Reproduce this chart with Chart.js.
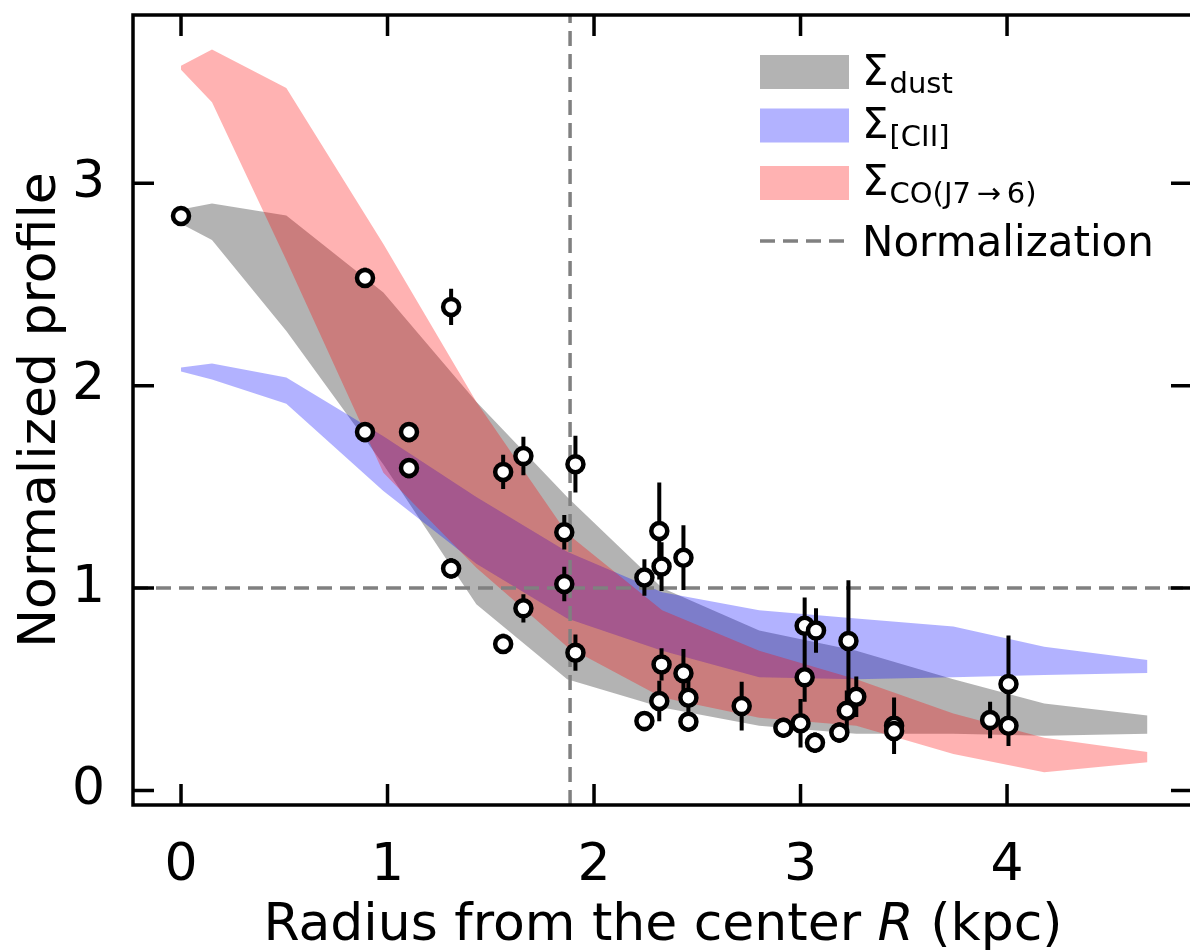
<!DOCTYPE html>
<html>
<head>
<meta charset="utf-8">
<script src="https://cdn.jsdelivr.net/npm/chart.js@4.4.1/dist/chart.umd.min.js"></script>
<style>
  html, body { margin: 0; padding: 0; background: #fff; overflow: hidden; }
  #wrap { width: 1190px; height: 950px; }
</style>
</head>
<body>
<div id="wrap"><canvas id="profile" width="1190" height="950"></canvas></div>
<script>
// radial bins of the model bands (kpc)
const bandX = [0, 0.15, 0.51, 0.98, 1.43, 1.87, 2.33, 2.80, 3.27, 3.74, 4.18, 4.68];

// dust band
const dustUpper = [2.87, 2.90, 2.84, 2.46, 1.92, 1.45, 1.00, 0.79, 0.69, 0.55, 0.43, 0.37];
const dustLower = [2.80, 2.72, 2.27, 1.61, 0.92, 0.55, 0.41, 0.32, 0.28, 0.28, 0.27, 0.28];

// [CII] band
const ciiUpper = [2.09, 2.11, 2.04, 1.75, 1.45, 1.18, 0.98, 0.89, 0.85, 0.81, 0.71, 0.645];
const ciiLower = [2.07, 2.03, 1.91, 1.48, 1.12, 0.85, 0.69, 0.56, 0.55, 0.56, 0.57, 0.58];

// CO(7-6) band
const coUpper = [3.58, 3.66, 3.47, 2.70, 1.92, 1.27, 0.89, 0.69, 0.55, 0.38, 0.26, 0.19];
const coLower = [3.56, 3.40, 2.62, 1.57, 1.10, 0.71, 0.46, 0.36, 0.32, 0.18, 0.09, 0.14];

// measured points with errors
const ptR   = [0, 0.891, 0.891, 1.104, 1.104, 1.308, 1.308, 1.56, 1.56, 1.658, 1.658, 1.856, 1.856, 1.91, 1.91,
               2.244, 2.244, 2.316, 2.327, 2.327, 2.316, 2.433, 2.433, 2.457, 2.457, 2.715, 2.917,
               3.02, 3.02, 3.0, 3.075, 3.07, 3.188, 3.224, 3.232, 3.27, 3.453, 3.453, 3.918, 4.007, 4.007];
const ptVal = [2.838, 2.532, 1.771, 1.771, 1.593, 2.389, 1.097, 1.574, 0.724, 1.652, 0.900, 1.276, 1.020, 1.612, 0.681,
               1.052, 0.343, 1.282, 1.106, 0.623, 0.442, 1.150, 0.579, 0.458, 0.340, 0.417, 0.310,
               0.814, 0.559, 0.332, 0.790, 0.236, 0.286, 0.394, 0.739, 0.463, 0.320, 0.294, 0.348, 0.526, 0.320];
const ptErr = [0.03, 0.05, 0.05, 0.05, 0.05, 0.09, 0.05, 0.085, 0.05, 0.095, 0.07, 0.085, 0.085, 0.14, 0.09,
               0.09, 0.05, 0.24, 0.12, 0.08, 0.10, 0.16, 0.12, 0.10, 0.05, 0.12, 0.05,
               0.14, 0.12, 0.12, 0.11, 0.05, 0.05, 0.10, 0.30, 0.10, 0.14, 0.08, 0.09, 0.24, 0.10];

const normR = 1.884;   // vertical normalization radius
const normLevel = 1;   // horizontal normalization level

const xTicks = [0, 1, 2, 3, 4];
const yTicks = [0, 1, 2, 3];
const X_MIN = -0.2325, X_MAX = 4.886;
const Y_MIN = -0.0716, Y_MAX = 3.831;

const FONT = "'DejaVu Sans'";
const GRAY = 'rgba(128,128,128,0.6)';
const BLUE = 'rgba(0,0,255,0.3)';
const RED = 'rgba(255,0,0,0.3)';
const DASH_COLOR = '#808080';

function xy(xs, ys) {
    return xs.map((x, i) => ({x: x, y: ys[i]}));
}

function band(upper, lower, color, order) {
    return [
        {data: xy(bandX, upper), fill: '+1', backgroundColor: color, borderColor: 'transparent',
         borderWidth: 0, pointRadius: 0, order: order},
        {data: xy(bandX, lower), fill: false, borderColor: 'transparent', borderWidth: 0,
         pointRadius: 0, order: order + 1}
    ];
}

// error bars as broken segments
const errData = [];
ptR.forEach((r, i) => {
    errData.push({x: r, y: ptVal[i] - ptErr[i]});
    errData.push({x: r, y: ptVal[i] + ptErr[i]});
    errData.push({x: r, y: null});
});

const datasets = [
    ...band(dustUpper, dustLower, GRAY, 30),
    ...band(ciiUpper, ciiLower, BLUE, 20),
    ...band(coUpper, coLower, RED, 10),
    {data: [{x: X_MIN, y: normLevel}, {x: X_MAX, y: normLevel}], borderColor: DASH_COLOR,
     borderWidth: 3.5, borderDash: [15, 8], pointRadius: 0, fill: false, order: 5},
    {data: [{x: normR, y: Y_MIN}, {x: normR, y: Y_MAX}], borderColor: DASH_COLOR,
     borderWidth: 3.5, borderDash: [15, 8], pointRadius: 0, fill: false, order: 5},
    {data: errData, borderColor: '#000', borderWidth: 4, pointRadius: 0, spanGaps: false,
     fill: false, order: 2},
    {data: xy(ptR, ptVal), showLine: false, pointRadius: 8, pointBorderWidth: 4.5,
     pointBackgroundColor: '#fff', pointBorderColor: '#000', fill: false, order: 1}
];

// legend rows: sub-scripted sigma labels
const legendSubs = ['dust', '[CII]', 'CO(J7\u2009\u2192\u20096)'];
const legendColors = ['rgb(179,179,179)', 'rgb(178,178,255)', 'rgb(255,178,178)'];

const framePlugin = {
    id: 'frame',
    afterDraw(chart) {
        const ctx = chart.ctx;
        const a = chart.chartArea;
        const xs = chart.scales.x, ys = chart.scales.y;
        const rightSpine = a.right + 2;
        ctx.save();
        ctx.strokeStyle = '#000';
        ctx.lineWidth = 3.5;
        ctx.lineCap = 'square';
        ctx.beginPath();
        ctx.moveTo(a.left, a.top);
        ctx.lineTo(a.left, a.bottom);
        ctx.lineTo(a.right + 5, a.bottom);
        ctx.moveTo(a.left, a.top);
        ctx.lineTo(a.right + 5, a.top);
        ctx.stroke();

        // inward ticks
        ctx.lineCap = 'butt';
        ctx.beginPath();
        xTicks.forEach(v => {
            const px = xs.getPixelForValue(v);
            ctx.moveTo(px, a.bottom); ctx.lineTo(px, a.bottom - 21);
            ctx.moveTo(px, a.top); ctx.lineTo(px, a.top + 21);
        });
        yTicks.forEach(v => {
            const py = ys.getPixelForValue(v);
            ctx.moveTo(a.left, py); ctx.lineTo(a.left + 21, py);
            ctx.moveTo(rightSpine, py); ctx.lineTo(rightSpine - 21, py);
        });
        ctx.stroke();

        // axis titles
        ctx.fillStyle = '#000';
        ctx.textBaseline = 'alphabetic';
        const p1 = 'Radius from the center ', p2 = 'R', p3 = ' (kpc)';
        ctx.font = '52px ' + FONT;
        const w1 = ctx.measureText(p1).width, w3 = ctx.measureText(p3).width;
        ctx.font = 'italic 52px ' + FONT;
        const w2 = ctx.measureText(p2).width;
        let tx = 663 - (w1 + w2 + w3) / 2;
        ctx.textAlign = 'left';
        ctx.font = '52px ' + FONT;
        ctx.fillText(p1, tx, 940);
        ctx.font = 'italic 52px ' + FONT;
        ctx.fillText(p2, tx + w1, 940);
        ctx.font = '52px ' + FONT;
        ctx.fillText(p3, tx + w1 + w2, 940);

        ctx.save();
        ctx.translate(55, (a.top + a.bottom) / 2);
        ctx.rotate(-Math.PI / 2);
        ctx.textAlign = 'center';
        ctx.fillText('Normalized profile', 0, 0);
        ctx.restore();

        // legend
        const boxX = 760, boxW = 89, boxH = 34, textX = 862;
        const boxTops = [55, 108.5, 166];
        const sigmaBase = [85, 138, 195];
        const subBase = [92.5, 146, 203];
        ctx.textAlign = 'left';
        legendSubs.forEach((sub, i) => {
            ctx.fillStyle = legendColors[i];
            ctx.fillRect(boxX, boxTops[i], boxW, boxH);
            ctx.fillStyle = '#000';
            ctx.font = '42px ' + FONT;
            ctx.fillText('\u03A3', textX, sigmaBase[i]);
            const ws = ctx.measureText('\u03A3').width;
            ctx.font = '29px ' + FONT;
            ctx.fillText(sub, textX + ws + 1, subBase[i]);
        });
        ctx.strokeStyle = DASH_COLOR;
        ctx.lineWidth = 3.5;
        ctx.setLineDash([15, 8]);
        ctx.beginPath();
        ctx.moveTo(boxX, 241);
        ctx.lineTo(boxX + boxW, 241);
        ctx.stroke();
        ctx.setLineDash([]);
        ctx.fillStyle = '#000';
        ctx.font = '42px ' + FONT;
        ctx.fillText('Normalization', textX, 256);
        ctx.restore();
    }
};

new Chart(document.getElementById('profile'), {
    type: 'line',
    data: {datasets: datasets},
    options: {
        responsive: false,
        animation: false,
        devicePixelRatio: 1,
        events: [],
        layout: {autoPadding: false, padding: {top: 15, left: 0, right: 0, bottom: 0}},
        plugins: {legend: {display: false}, tooltip: {enabled: false}},
        scales: {
            x: {
                type: 'linear', min: X_MIN, max: X_MAX,
                grid: {display: false}, border: {display: false},
                afterBuildTicks: s => { s.ticks = xTicks.map(v => ({value: v})); },
                afterFit: s => { s.height = 145; s.paddingLeft = 0; s.paddingRight = 0; },
                ticks: {font: {family: FONT, size: 52}, color: '#000', padding: 22,
                        maxRotation: 0, autoSkip: false}
            },
            y: {
                type: 'linear', min: Y_MIN, max: Y_MAX,
                grid: {display: false}, border: {display: false},
                afterBuildTicks: s => { s.ticks = yTicks.map(v => ({value: v})); },
                afterFit: s => { s.width = 133; s.paddingTop = 0; s.paddingBottom = 0; },
                ticks: {font: {family: FONT, size: 52}, color: '#000', padding: 20, autoSkip: false}
            }
        }
    },
    plugins: [framePlugin]
});
</script>
</body>
</html>
